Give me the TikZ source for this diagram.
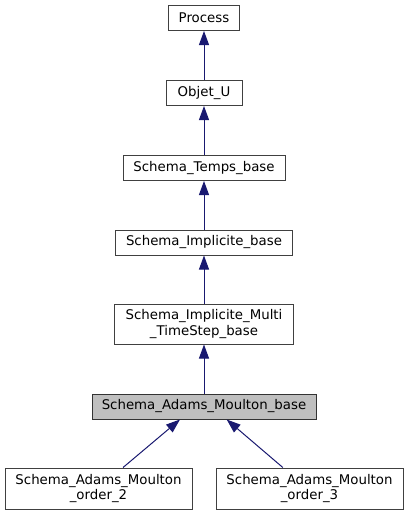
\documentclass[tikz,border=0pt]{standalone}
\usepackage{fontspec}
\setmainfont{DejaVu Sans}
\usetikzlibrary{arrows.meta}
\definecolor{edgeblue}{HTML}{191970}
\definecolor{basegray}{HTML}{BFBFBF}
\tikzstyle{classbox}=[draw=black!75, fill=white, line width=0.75pt, inner sep=0pt, minimum height=18.75pt, align=center, font=\fontsize{10}{11.3}\selectfont]
\tikzstyle{inherit}=[draw=edgeblue, line width=0.75pt, -{Triangle[length=10.5pt,width=7.5pt]}]

\begin{document}
\begin{tikzpicture}[x=0.75pt, y=-0.75pt]
          \useasboundingbox (0,0) rectangle (408,515);
          \node[classbox, minimum width=53.25pt] (process) at (204,18) {Process};
          \node[classbox, minimum width=57pt] (objet) at (204,93) {Objet\_U};
          \node[classbox, minimum width=121.5pt] (temps) at (204,168) {Schema\_Temps\_base};
          \node[classbox, minimum width=132.5pt] (implicite) at (204,242.5) {Schema\_Implicite\_base};
          \node[classbox, minimum width=134.25pt, minimum height=30pt] (multi) at (204,324)
            {Schema\_Implicite\_Multi\\\_TimeStep\_base};
          \node[classbox, fill=basegray, draw=black!80, minimum width=168pt] (base) at (204,406.5)
            {Schema\_Adams\_Moulton\_base};
          \node[classbox, minimum width=140.25pt, minimum height=30.75pt] (ordre2) at (98.5,488.5)
            {Schema\_Adams\_Moulton\\\_order\_2};
          \node[classbox, minimum width=140.25pt, minimum height=30.75pt] (ordre3) at (309.5,488.5)
            {Schema\_Adams\_Moulton\\\_order\_3};
          \draw[inherit] (objet) -- (process);
          \draw[inherit] (temps) -- (objet);
          \draw[inherit] (implicite) -- (temps);
          \draw[inherit] (multi) -- (implicite);
          \draw[inherit] (base) -- (multi);
          \draw[inherit] ([xshift=18.4pt]ordre2.north) -- ([xshift=-18pt]base.south);
          \draw[inherit] ([xshift=-20pt]ordre3.north) -- ([xshift=17pt]base.south);
        \end{tikzpicture}
\end{document}
